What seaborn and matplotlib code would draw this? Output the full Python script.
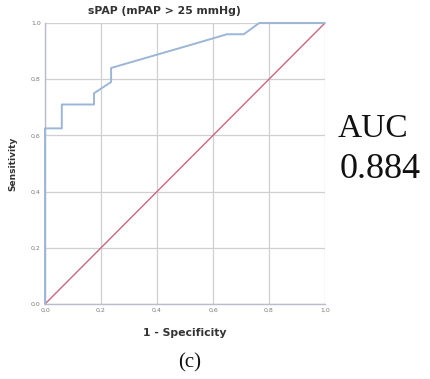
import matplotlib
matplotlib.use("Agg")
import matplotlib.pyplot as plt
import seaborn as sns
import pandas as pd

# ROC curve for sPAP predicting mPAP > 25 mmHg
fpr = [0.0, 0.0, 0.06, 0.06, 0.175, 0.175, 0.236, 0.236, 0.52, 0.65, 0.71, 0.765, 1.0]
tpr = [0.0, 0.625, 0.625, 0.71, 0.71, 0.75, 0.79, 0.84, 0.922, 0.96, 0.96, 1.0, 1.0]
ref_line = [0.0, 1.0]
tick_values = [0.0, 0.2, 0.4, 0.6, 0.8, 1.0]
tick_labels = ["0,0", "0,2", "0,4", "0,6", "0,8", "1,0"]
auc_value = 0.884

sns.set_theme(style="white")
plt.rcParams["font.family"] = ["DejaVu Sans"]

fig = plt.figure(figsize=(4.3, 3.79), dpi=100)
ax = fig.add_axes([0.1047, 0.1979, 0.6511, 0.7414])

roc = pd.DataFrame({"fpr": fpr, "tpr": tpr})
diag = pd.DataFrame({"x": ref_line, "y": ref_line})

sns.lineplot(data=diag, x="x", y="y", ax=ax, color="#c9677c", lw=1.0,
             sort=False, estimator=None)
sns.lineplot(data=roc, x="fpr", y="tpr", ax=ax, color="#9cb6d8", lw=1.4,
             sort=False, estimator=None, clip_on=False, zorder=5)

ax.set_xlim(0, 1)
ax.set_ylim(0, 1)
ax.set_xticks(tick_values)
ax.set_yticks(tick_values)
ax.set_xticklabels(tick_labels)
ax.set_yticklabels(tick_labels)
ax.tick_params(axis="both", labelsize=4.5, labelcolor="#7a7a7a", length=0, pad=3)
ax.grid(True, color="#cfcfd4", lw=0.9)
ax.set_axisbelow(True)
for side in ("top", "right"):
    ax.spines[side].set_visible(False)
for side in ("left", "bottom"):
    ax.spines[side].set_color("#b8bccb")
    ax.spines[side].set_linewidth(1.0)

ax.text(0.425, 1.025, "sPAP (mPAP > 25 mmHg)", transform=ax.transAxes,
        fontsize=7.8, fontweight="bold", color="#333333", ha="center", va="bottom")
ax.set_xlabel("1 - Specificity", fontsize=7.8, fontweight="bold", color="#333333", labelpad=11)
ax.set_ylabel("Sensitivity", fontsize=6.5, fontweight="bold", color="#333333", labelpad=10)

fig.text(0.868, 0.661, "AUC", fontsize=24, family="Liberation Serif", color="#111111",
         ha="center", va="center")
fig.text(0.885, 0.553, f"{auc_value:.3f}", fontsize=26, family="Liberation Serif",
         color="#111111", ha="center", va="center")
fig.text(0.442, 0.043, "(c)", fontsize=15, family="Liberation Serif", color="#111111",
         ha="center", va="center")

fig.savefig("out.png", dpi=100)
